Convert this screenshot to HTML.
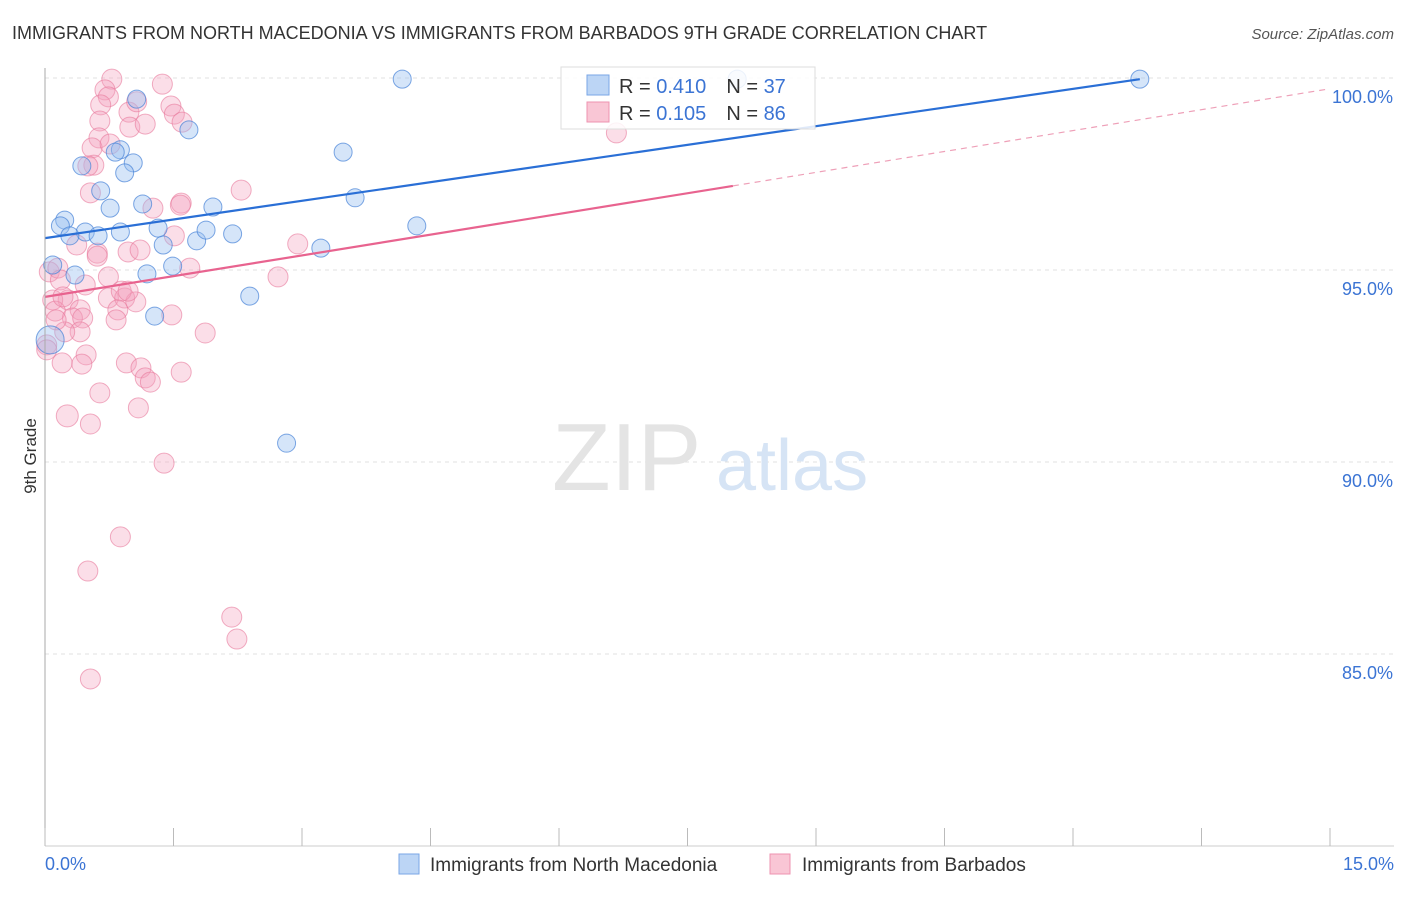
<!DOCTYPE html>
<html><head><meta charset="utf-8"><style>
body{margin:0;background:#fff;font-family:"Liberation Sans",sans-serif;}
svg text{font-family:"Liberation Sans",sans-serif;}
</style></head><body>
<svg width="1406" height="892" xmlns="http://www.w3.org/2000/svg">
<text x="12" y="39" font-size="18" fill="#333">IMMIGRANTS FROM NORTH MACEDONIA VS IMMIGRANTS FROM BARBADOS 9TH GRADE CORRELATION CHART</text>
<text x="1394" y="39" font-size="15" fill="#555" font-style="italic" text-anchor="end">Source: ZipAtlas.com</text>
<g id="grid"></g>
<g><text x="552" y="490" font-size="96" fill="#e4e4e4" font-family="Liberation Serif">ZIP</text><text x="716" y="490" font-size="72" fill="#d6e4f5">atlas</text></g>
<g id="pts"></g>
<g id="lines"></g>
<line x1="45" y1="68" x2="45" y2="846" stroke="#aaa"/>
<line x1="45" y1="846" x2="1394" y2="846" stroke="#ccc"/>
<g id="ticks"></g>
<text x="36" y="456" font-size="17" fill="#333" text-anchor="middle" transform="rotate(-90 36 456)">9th Grade</text>
<text x="45" y="870" font-size="18" fill="#3b74d4">0.0%</text>
<text x="1394" y="870" font-size="18" fill="#3b74d4" text-anchor="end">15.0%</text>
<g>
<rect x="561" y="67" width="254" height="62" fill="rgba(255,255,255,0.85)" stroke="#ddd"/>
<rect x="587" y="75" width="22" height="20" fill="#bcd5f5" stroke="#7aa6e6"/>
<rect x="587" y="102" width="22" height="20" fill="#f9c6d5" stroke="#ee93b0"/>
<text x="619" y="93" font-size="20" fill="#333">R = <tspan fill="#3b74d4">0.410</tspan><tspan dx="20">N = </tspan><tspan fill="#3b74d4">37</tspan></text>
<text x="619" y="120" font-size="20" fill="#333">R = <tspan fill="#3b74d4">0.105</tspan><tspan dx="20">N = </tspan><tspan fill="#3b74d4">86</tspan></text>
</g>
<g>
<rect x="399" y="854" width="20" height="20" fill="#bcd5f5" stroke="#7aa6e6"/>
<text x="430" y="871" font-size="19" fill="#333">Immigrants from North Macedonia</text>
<rect x="770" y="854" width="20" height="20" fill="#f9c6d5" stroke="#ee93b0"/>
<text x="802" y="871" font-size="19" fill="#333">Immigrants from Barbados</text>
</g>
</svg>
<script>
const yTicks=[100,95,90,85];
const yTickLabels=["100.0%","95.0%","90.0%","85.0%"];
const xTicks=[0,1.5,3,4.5,6,7.5,9,10.5,12,13.5,15];
const blueX=[1.07,1.68,4.17,8.08,12.78,0.43,0.88,0.82,1.03,0.93,0.65,0.76,1.14,3.48,3.62,1.96,0.23,0.18,0.47,0.62,0.29,0.88,1.32,1.38,1.77,1.88,2.19,3.22,4.34,0.09,0.35,1.19,1.49,2.39,1.28,2.82,0.06];
const blueY=[99.45,98.65,99.97,99.97,99.97,97.71,98.13,98.07,97.79,97.53,97.06,96.61,96.72,98.07,96.88,96.64,96.30,96.15,95.99,95.89,95.89,95.99,96.09,95.65,95.76,96.04,95.94,95.57,96.15,95.13,94.87,94.90,95.10,94.32,93.80,90.49,93.18];
const pinkX=[0.78,0.70,0.74,0.65,1.37,0.64,0.98,1.47,0.63,0.55,0.99,1.51,1.17,1.07,1.60,0.76,0.57,0.50,1.26,0.53,2.29,1.59,1.58,6.67,1.51,0.97,1.11,0.61,0.61,0.37,0.05,0.15,0.74,1.69,0.47,0.27,0.09,0.12,0.41,0.74,0.93,1.06,0.89,0.97,0.32,0.44,0.41,0.23,0.85,0.83,0.13,0.02,2.72,2.95,1.48,1.87,0.48,0.20,0.43,0.95,1.12,1.17,1.23,1.59,0.64,0.26,1.09,0.53,1.39,0.88,0.50,2.18,2.24,0.53,0.02,0.18,0.21];
const pinkY=[99.97,99.69,99.51,99.30,99.84,98.88,99.11,99.27,98.44,98.18,98.72,99.06,98.80,99.38,98.85,98.28,97.73,97.71,96.61,97.01,97.08,96.74,96.69,98.57,95.89,95.47,95.52,95.44,95.36,95.65,94.95,95.05,94.82,95.05,94.61,94.22,94.22,93.93,93.96,94.27,94.27,94.17,94.45,94.45,93.75,93.75,93.39,93.39,93.96,93.70,93.70,93.05,94.82,95.68,93.83,93.36,92.79,92.58,92.55,92.58,92.45,92.19,92.08,92.34,91.80,91.20,91.41,90.99,89.97,88.05,87.16,85.96,85.39,84.35,92.92,94.74,94.30];
const blueLine=[[0,95.83],[12.78,99.97]];
const pinkLine=[[0,94.3],[8.03,97.19]];
const pinkDash=[[8.03,97.19],[15,99.72]];
const NS="http://www.w3.org/2000/svg";
const X=v=>45+v/15*1285;
const Y=v=>78+(100-v)*38.4;
function mk(tag,attrs,parent){const e=document.createElementNS(NS,tag);for(const k in attrs)e.setAttribute(k,attrs[k]);parent.appendChild(e);return e;}
const grid=document.getElementById('grid');
yTicks.forEach((t,i)=>{
 const l=mk('line',{x1:45,x2:1394,y1:Y(t),y2:Y(t),stroke:'#e2e2e2','stroke-dasharray':'4,4'},grid);
 
 
 const tx=mk('text',{x:1393,y:Y(t)+25,'font-size':18,fill:'#3b74d4','text-anchor':'end'},grid);
 tx.textContent=yTickLabels[i];
 
 
});
const ticks=document.getElementById('ticks');
xTicks.forEach(t=>{
 const l=mk('line',{x1:X(t),x2:X(t),y1:828,y2:846,stroke:'#bbb'},ticks);
 
 
});
const pts=document.getElementById('pts');
pinkX.forEach((x,i)=>{
 const big=(i===65);
 const c=mk('circle',{cx:X(x),cy:Y(pinkY[i]),r:big?11:10,fill:'rgba(244,160,188,0.35)',stroke:'rgba(232,120,155,0.6)','stroke-width':1},pts);
 
 
});
blueX.forEach((x,i)=>{
 const big=(i===36);
 const c=mk('circle',{cx:X(x),cy:Y(blueY[i]),r:big?14:9,fill:'rgba(150,190,240,0.4)',stroke:'rgba(70,130,215,0.7)','stroke-width':1},pts);
 
 
});
const lines=document.getElementById('lines');
const bl=mk('line',{x1:X(blueLine[0][0]),y1:Y(blueLine[0][1]),x2:X(blueLine[1][0]),y2:Y(blueLine[1][1]),stroke:'#2a6fd6','stroke-width':2.2},lines);


const pl=mk('line',{x1:X(pinkLine[0][0]),y1:Y(pinkLine[0][1]),x2:X(pinkLine[1][0]),y2:Y(pinkLine[1][1]),stroke:'#e8638f','stroke-width':2.2},lines);


const pd=mk('line',{x1:X(pinkDash[0][0]),y1:Y(pinkDash[0][1]),x2:X(pinkDash[1][0]),y2:Y(pinkDash[1][1]),stroke:'#eea0b8','stroke-width':1.2,'stroke-dasharray':'6,5'},lines);


</script>
</body></html>
